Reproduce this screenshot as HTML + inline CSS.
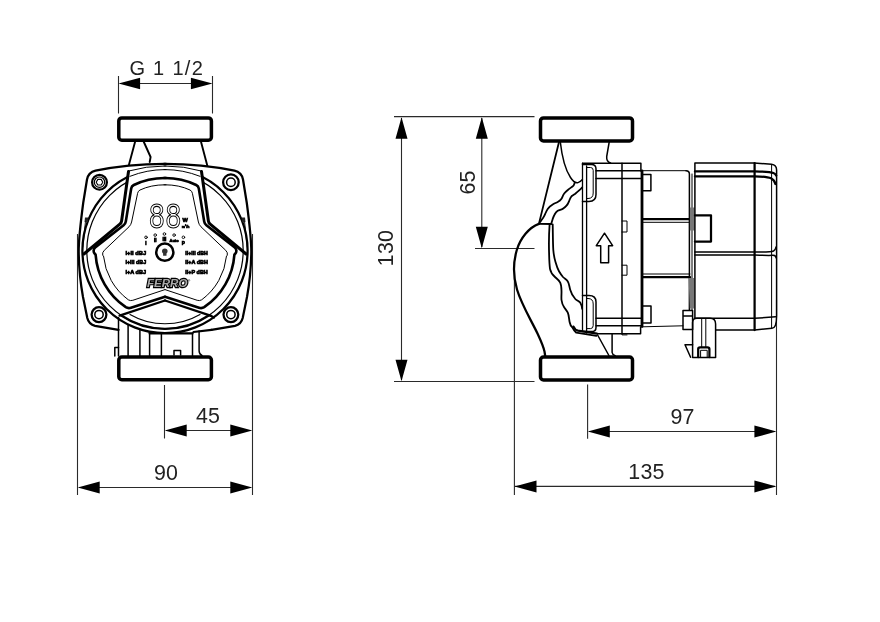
<!DOCTYPE html>
<html lang="en">
<head>
<meta charset="utf-8">
<title>Pump dimensions</title>
<style>
html,body{margin:0;padding:0;background:#fff;}
body{width:880px;height:622px;overflow:hidden;}
svg{display:block;filter:grayscale(1);}
text{font-family:"Liberation Sans",sans-serif;fill:#222;}
.dim{font-size:21.4px;letter-spacing:0.2px;}
.k{fill:none;stroke:#000;stroke-linecap:round;stroke-linejoin:round;}
.t1{stroke-width:1;}
.t2{stroke-width:1.5;}
.t3{stroke-width:2.25;}
.t4{stroke-width:2.6;}
.fl{fill:#fff;stroke:#000;stroke-width:3.5;}
.d{fill:none;stroke:#2a2a2a;stroke-width:1.1;}
.ah{fill:#000;stroke:none;}
.w{fill:#fff;stroke:none;}
.tiny{font-weight:bold;fill:#000;stroke:#000;stroke-width:0.7px;}
</style>
</head>
<body>
<svg width="880" height="622" viewBox="0 0 880 622">
<rect x="0" y="0" width="880" height="622" fill="#fff"/>

<!-- ================= DIMENSIONS ================= -->
<g id="dims">
  <!-- G 1 1/2 -->
  <path class="d" d="M118.5,76V113.5M212.5,76V113.5M120,83.5H211"/>
  <path class="ah" d="M118.5,83.5l21.6,-5.7v11.4zM212.5,83.5l-21.6,-5.7v11.4z"/>
  <text class="dim" x="129.4" y="75.2" style="font-size:20px;letter-spacing:1.3px">G 1 1/2</text>
  <!-- 45 -->
  <path class="d" d="M164.5,385V438.5M166,430.5H251"/>
  <path class="ah" d="M164.7,430.5l22,-6v12zM252.3,430.5l-22,-6v12z"/>
  <text class="dim" x="208" y="423" text-anchor="middle">45</text>
  <!-- 90 -->
  <path class="d" d="M77.5,234V495M252.5,234V495M79,487.5H251"/>
  <path class="ah" d="M77.7,487.5l22,-6v12zM252.3,487.5l-22,-6v12z"/>
  <text class="dim" x="166" y="479.8" text-anchor="middle">90</text>
  <!-- 130 -->
  <path class="d" d="M394,116.6H534.5M394,381.5H534.5M401.5,118V380"/>
  <path class="ah" d="M401.5,117.2l-6,21.5h12zM401.5,381.3l-6,-21.5h12z"/>
  <text class="dim" transform="translate(393.2,248) rotate(-90)" text-anchor="middle">130</text>
  <!-- 65 -->
  <path class="d" d="M475,248.5H534.5M481.8,118V247"/>
  <path class="ah" d="M481.8,117.2l-6,21.5h12zM481.8,248.3l-6,-21.5h12z"/>
  <text class="dim" transform="translate(474.6,182.5) rotate(-90)" text-anchor="middle">65</text>
  <!-- 97 -->
  <path class="d" d="M587.6,384.5V438.8M589,431.5H775"/>
  <path class="ah" d="M587.8,431.5l22,-6v12zM776.4,431.5l-22,-6v12z"/>
  <text class="dim" x="682.5" y="423.6" text-anchor="middle">97</text>
  <!-- 135 -->
  <path class="d" d="M514.4,262V495M776.5,300V495M515,486.4H775"/>
  <path class="ah" d="M514.5,486.4l22,-6v12zM776.4,486.4l-22,-6v12z"/>
  <text class="dim" x="646.5" y="478.6" text-anchor="middle">135</text>
</g>

<!-- ================= FRONT VIEW ================= -->
<g id="front">
  <!-- neck -->
  <path class="k" stroke-width="1.9" d="M135.3,141L129,164.5M143.4,141L150.6,157L149.7,162M200.8,141L207.4,166"/>
  <!-- housing outline -->
  <g id="hhalf">
    <path class="k t3" d="M166,163.8H165C140,163.8 115,166.5 95.5,170.7Q88.5,172.3 87,179.5L83.2,203Q78.6,238 78.7,252Q79,275 83,297L87.3,318Q88.8,324.3 95,325.8L118.5,329.8"/>
  </g>
  <use href="#hhalf" transform="translate(330,0) scale(-1,1)"/>
  <!-- bolts -->
  <circle class="k t3" cx="99.5" cy="182.2" r="7.4"/>
  <circle class="k" stroke-width="1.2" cx="99.5" cy="182.2" r="5.2"/>
  <path class="k" stroke-width="1.1" d="M96.2,182.2l1.65,-2.85h3.3l1.65,2.85l-1.65,2.85h-3.3z"/>
  <circle class="k t3" cx="230.9" cy="182.2" r="7.8"/>
  <circle class="k t2" cx="230.9" cy="182.2" r="4.3"/>
  <circle class="k t3" cx="99" cy="314.6" r="7.4"/>
  <circle class="k t2" cx="99" cy="314.6" r="4.2"/>
  <circle class="k t3" cx="230.9" cy="314.6" r="7.4"/>
  <circle class="k t2" cx="230.9" cy="314.6" r="4.2"/>
  <path class="k t3" d="M211.5,329.8L193.5,332"/>

  <!-- motor circles -->
  <circle class="k t3" cx="165" cy="250.6" r="82.6"/>
  <circle class="k" stroke-width="1.2" cx="165" cy="250.6" r="78.2"/>

  <path class="k" stroke-width="2.3" d="M121.3,315.5A78.2,78.2 0 0 0 208.7,315.5"/>
  <path class="k" stroke-width="1.1" d="M130,314.4A70,70 0 0 0 200,314.4"/>
  <path class="k" stroke-width="2.3" d="M210.4,315.6L213.8,317.6"/>
  <!-- terminal block under the circle -->
  <path class="w" d="M149.6,333.5H192.5V356H149.6z"/>
  <path class="k t2" d="M118.5,317.5V356M128.1,325V356M139.9,330V356M149.6,333V356M161.4,334V356M192.5,333V356M199.1,331V351Q199.3,354.5 202,355.5"/>
  <path class="k t3" d="M149.6,333.4H192.5"/>
  <path class="k t2" d="M118.5,347.5H114.8V356M174,355V350.5H180.6V355"/>

  <!-- cover: white mask over the circles -->
  <path class="w" d="M128.7,171Q165,161 201.3,171L208.5,222.5H121.5z"/>
  <g id="chalf">
    <!-- A: outer band -->
    <path class="k t1" d="M166,166H165Q146,166 128.7,171"/>
    <path class="k t1" d="M166,169.6H165Q147,169.6 130,176.3"/>
    <path class="k" stroke-width="3" d="M128.5,171.5L121.6,221Q121.3,223 119.8,224.2L83.9,254"/>
    <!-- B: panel thick outline -->
    <path class="k" stroke-width="2.6" d="M166,178H165Q148,178 133.8,185Q131.6,186.1 131.2,188.5L125.8,221.5Q125.4,223.9 123.6,225.3L95.2,247.4Q93,249.2 93.9,252.4Q94.6,253.8 95.6,254.6A69.3,69.3 0 0 0 125.8,307.2Q128.2,308.7 131,307.8L165,296.8"/>
    <!-- C: inner thin line -->
    <path class="k t1" d="M166,184.8H165Q151,184.8 140,190Q138,191 137.6,193.3L131.6,222Q131,224.8 129,226.8L104.3,250.3Q102,252.6 102.7,255.2L103.5,256A61.8,61.8 0 0 0 128.3,299.8Q130.4,301.1 132.8,300.3L165,289.6"/>
    <!-- chevron -->
    <path class="k" stroke-width="2.3" d="M119.6,315.6L165,300.5"/>
    <!-- side tab -->
    <path d="M85,217.4h3.4l-0.5,4.6h-3.4z" fill="#222"/><path class="k" stroke="#444" stroke-width="0.9" d="M85.4,222L82.8,247"/>
  </g>
  <use href="#chalf" transform="translate(330,0) scale(-1,1)"/>

  <!-- display -->
  <text x="148.4" y="228" style="font-size:37.6px;font-family:'Liberation Mono',monospace;fill:none;stroke:#000;stroke-width:1.1px" textLength="33.2" lengthAdjust="spacingAndGlyphs">88</text>
  <text class="tiny" x="182.6" y="221.6" style="font-size:5.6px">W</text>
  <text class="tiny" x="181.8" y="228.2" style="font-size:4.4px" textLength="7.6" lengthAdjust="spacingAndGlyphs">m³/h</text>
  <g class="k" stroke-width="0.9">
    <circle cx="146" cy="237.3" r="1.3"/><circle cx="155.2" cy="235.1" r="1.3"/><circle cx="164.4" cy="234" r="1.3"/><circle cx="174.1" cy="235.1" r="1.3"/><circle cx="183.4" cy="237.3" r="1.3"/>
  </g>
  <g class="tiny" style="font-size:4.6px" text-anchor="middle">
    <text x="146" y="244.6">I</text><text x="155.2" y="242.4">II</text><text x="164.4" y="241.4">III</text><text x="174.1" y="242.4" style="font-size:4px">Auto</text><text x="183.4" y="244.6">P</text>
  </g>
  <circle class="k" cx="164.8" cy="252.2" r="8.6" stroke-width="2.5"/>
  <path d="M162,251.2a2.8,2.8 0 1 1 5.6,0q0,1.5 -1.1,2.4v2.2h-3.4v-2.2q-1.1,-0.9 -1.1,-2.4z" fill="#333"/>
  <g class="tiny" style="font-size:5.6px">
    <text x="125.5" y="254.6" textLength="20.6" lengthAdjust="spacingAndGlyphs">I+II dBJ</text>
    <text x="125.5" y="264.2" textLength="20.6" lengthAdjust="spacingAndGlyphs">I+III dBJ</text>
    <text x="125.5" y="273.7" textLength="20.6" lengthAdjust="spacingAndGlyphs">I+A dBJ</text>
    <text x="185.3" y="254.6" textLength="22.5" lengthAdjust="spacingAndGlyphs">II+III dBH</text>
    <text x="185.3" y="264.2" textLength="22.5" lengthAdjust="spacingAndGlyphs">II+A dBH</text>
    <text x="185.3" y="273.7" textLength="22.5" lengthAdjust="spacingAndGlyphs">II+P dBH</text>
  </g>
  <text x="147" y="287.4" style="font-size:11.6px;font-weight:bold;font-style:italic;fill:#aaa;stroke:#000;stroke-width:2.3px;paint-order:stroke" textLength="40.4" lengthAdjust="spacingAndGlyphs">FERRO</text>
  <text x="188" y="281.6" style="font-size:3px;font-weight:bold;fill:#000">®</text>

  <!-- flanges -->
  <rect class="fl" x="118.8" y="117.9" width="92.6" height="22.3" rx="3"/>
  <rect class="fl" x="118.8" y="357" width="92.6" height="22.7" rx="3"/>
</g>

<!-- ================= SIDE VIEW ================= -->
<g id="side">
  <!-- volute / pump body -->
  <path class="k" stroke-width="1.8" d="M559,142L538.9,223.9"/>
  <path class="k t2" d="M560.3,142C562,157 565.5,170 570.5,177.5Q574.5,183.6 578,182.6Q580.5,181.8 582.4,179.6"/>
  <path class="k t2" d="M609.2,142L606.7,156.5Q606.3,161.6 610.5,163"/>
    <!-- upper wavy band -->
  <path class="k" stroke-width="1.8" d="M574.6,183C574,184.6 574,185.5 572.8,186.3C570.5,188 569,188.8 567.8,190C566,191.5 564.8,192.6 564,193.8C562.6,195.8 562.4,197.5 561.5,198.8C560.6,200.2 559.3,201.2 557.7,202C556,202.9 554.2,203.6 552.7,204.5C550.5,205.8 548.9,207.2 547.7,208.9C546.6,210.4 545.9,212.2 545.2,213.9C544.6,215.3 544,216.5 543.3,217.6L540.2,222"/>
  <path class="k" stroke-width="1.8" d="M582.2,187.5C581.5,188.2 581,188.8 580.3,189.4C578.5,191 577,192.4 575.3,193.8C574,194.8 572.6,195.4 571.5,196.3C570.2,197.5 569.8,199.5 569,201.3C568.3,203 567.6,204.5 566.5,205.7C565.4,207 564.2,208.2 562.7,208.9C561,209.7 559.2,209.9 557.7,210.7C556.3,211.6 555.3,213 554.6,214.5C553.8,216 553.2,217.5 552.7,218.9L551.4,223.3"/>
  <path class="k" stroke-width="1.8" d="M538.9,223.9L551.4,224"/>
  <!-- bulge -->
  <path class="k t3" d="M538.9,223.9C529,227.5 520.5,238 516.8,250C513,263 513.3,277 517,289.5C521.5,304.5 530.5,319 537.5,333.5C541,341 543.5,347 544.5,351.5L545.2,356"/>
  <!-- lower wavy band -->
  <path class="k" stroke-width="1.8" d="M549.6,224.3C549,233 548.8,242 549,250C549.2,257 549.2,263 550,268.8C550.8,273 553,275.2 555,277C557,278.8 559,280.2 560.2,282.6C561.4,285 561.4,288 561.5,291C561.6,294 561.2,297 561.5,300C561.9,303 562.8,305.2 564,307C565.2,309 566.8,310.6 567.8,312.7C569,315.5 569,319 569.6,322Q570.2,325.5 572.5,327.6Q574,330.8 576.3,332.7L596.4,335.8"/>
  <path class="k" stroke-width="1.8" d="M552.7,224.3C552.9,233 552.8,242 553.3,250C553.7,254.5 554.4,258.5 555.5,262C556.5,265.5 557.5,268.6 559,271.3C560.3,273.6 561.6,275.4 563,277C564.6,278.7 566.6,279.5 567.8,281.4C569.3,283.8 569.3,287 570.3,290C571.3,293.5 573,296.6 575.3,299C576.8,300.5 578.8,301.2 580.3,302.7Q581.8,305 582.2,309"/>
  <path class="k t3" d="M573.5,326.6Q575,330 578,330.7L597,333.6"/>
  <!-- neck bottom -->
  <path class="k t2" d="M597.6,335L608.9,355.5M612.1,334V352.5Q612.3,354.6 615.2,355.8"/>

  <!-- motor can -->
  <path class="k t2" d="M582.5,163.2H640.9V171M640.6,327V333.7H597.6"/>
  <path class="k" stroke-width="1.3" d="M582.5,163.2V331M586.6,166V333"/>
  <path class="k" stroke-width="2.8" d="M642,171V326.6"/>
  <path class="k t2" d="M596,170.7H640.9M596,178.6H640.9M596,318.2H640.9M596,325.8H640.9"/>
  <path class="k t2" d="M622,163.2V333.7"/>
  <path class="k t1" d="M622,221H627V232H622M622,265.2H627V275.2H622M622,333.7v1.2h5"/>
  <!-- clips -->
  <path class="k t2" d="M582.5,164.6H591.5Q596,164.6 596,169V194.5Q596,201.4 589,201.4H582.5"/>
  <path class="k t1" d="M586.6,167.5H590.5Q593.2,167.5 593.2,170.3V193Q593.2,198.5 588,198.5H586.6"/>
  <path class="k t2" d="M582.5,295.6H589Q596,295.6 596,302V327.5Q596,331.6 591.5,331.6H582.5"/>
  <path class="k t1" d="M586.6,298.5H588Q593.2,298.5 593.2,304V325.5Q593.2,328.6 590.5,328.6H586.6"/>
  <!-- flow arrow -->
  <path class="k t2" d="M604.5,233.2L612.6,245.7H608.6V262.7H600.7V245.7H596.3Z"/>

  <!-- shaft section -->
  <path class="k t1" d="M643,170.7H686"/><path class="k t2" d="M686,170.7Q689.4,170.7 689.4,174V310"/>
  <path class="k t1" d="M692,174V310"/>
  <path class="k t1" d="M643,326.8L683,325.8"/>
  <path class="k t2" d="M643,174.5H650.9V190.8H643M643,306.1H651V322.9H643"/>
  <path class="k t3" d="M643,219H690M643,277.2H690"/>
  <path class="k t1" d="M643,222.3H690M643,274H690"/>
  <path d="M689.9,207.5h4.6v23h-4.6zM688.6,278h5.6v30.5h-4.4z" fill="#777"/>

  <!-- control box -->
  <path class="k t2" d="M694.9,318.3V162.9H754L771.5,164.2Q776.6,164.8 776.6,170V316Q776.6,328 772,328.3L754.7,329.9H716"/>
  <path class="k t3" d="M694.9,171.3H754.7Q770,171.6 773.4,173Q775.4,173.8 776.2,175.5"/>
  <path class="k t3" d="M694.9,176.3H754.7Q767,176.6 771,178.3Q774.4,180 775.4,184"/>
  <path class="k t3" d="M754.6,163V330"/>
  <path class="k t1" d="M771.6,164.4V328.2"/>
  <path class="k t2" d="M694.9,252H754.7Q770,252.4 773.5,251Q775.5,250 776,247"/>
  <path class="k t2" d="M694.9,255.1H754.7Q770,255.6 772.5,255.3Q775.5,255 776.3,258"/>
  <path class="k t3" d="M694.9,215.3H711V241.5H694.9"/>
  <path class="k t2" d="M695,318.3H754.7L775.5,316.8"/>
  <!-- connector -->
  <path class="k t2" d="M683,310.6H692.6V329.6H683ZM683,316H692.6"/>
  <path class="k t2" d="M692.6,357.4V322.5Q692.6,318.3 697,318.3H710Q715.6,318.3 715.6,324V357.4Z"/>
  <path class="k t1" d="M701.7,318.5V347M705.8,318.5V347"/>
  <path class="k t3" d="M698.2,357V349Q698.2,347.4 700,347.4H707.6Q709.4,347.4 709.4,349V357"/>
  <path class="k t1" d="M700.6,357V350.3H707.2V357"/>
  <path class="k t2" d="M692.6,344.7H685L690.6,357.2"/>

  <!-- flanges -->
  <rect class="fl" x="540.5" y="117.9" width="92" height="23" rx="3"/>
  <rect class="fl" x="540.5" y="357.1" width="92" height="22.8" rx="3"/>
</g>
</svg>
</body>
</html>
